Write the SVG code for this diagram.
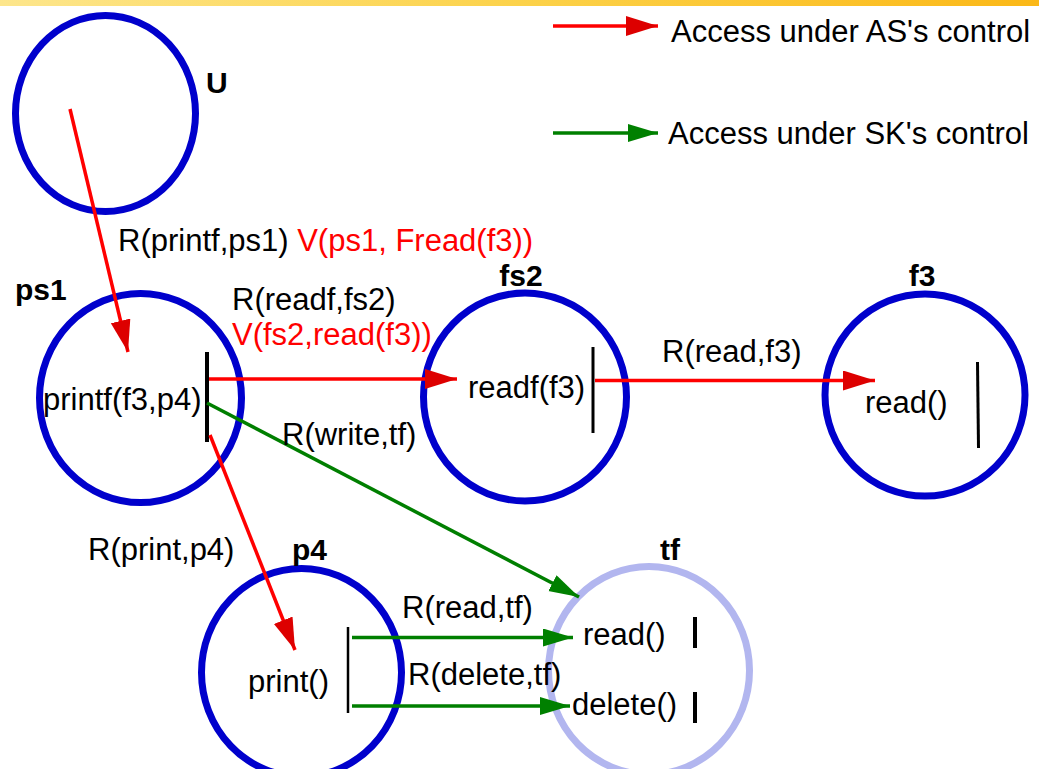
<svg xmlns="http://www.w3.org/2000/svg" width="1039" height="769" viewBox="0 0 1039 769">
<defs>
<linearGradient id="topbar" x1="0" y1="0" x2="1" y2="0">
<stop offset="0" stop-color="#fde68c"/>
<stop offset="0.5" stop-color="#fcd24a"/>
<stop offset="1" stop-color="#fbb817"/>
</linearGradient>
<marker id="hr" markerUnits="userSpaceOnUse" markerWidth="34" markerHeight="24" refX="32" refY="10" orient="auto">
<path d="M0,0 L32,10 L0,20 z" fill="#dd0000"/>
</marker>
<marker id="hg" markerUnits="userSpaceOnUse" markerWidth="32" markerHeight="22" refX="30" refY="9" orient="auto">
<path d="M0,0 L30,9 L0,18 z" fill="#008000"/>
</marker>
</defs>
<style>
.node{fill:none;stroke:#0000cc;stroke-width:7}
.ghost{fill:none;stroke:#b2b6ef;stroke-width:7}
.bar{stroke:#000;fill:none}
.t{font-family:"Liberation Sans",Arial,sans-serif;font-size:31px;fill:#000}
.r{fill:#ff0000}
.b{font-family:"Liberation Sans",Arial,sans-serif;font-size:30px;font-weight:bold;fill:#000}
.red{stroke:#ff0000;stroke-width:3.5;fill:none;marker-end:url(#hr)}
.grn{stroke:#007f00;stroke-width:3.5;fill:none;marker-end:url(#hg)}
</style>
<rect x="0" y="0" width="1039" height="6" fill="url(#topbar)"/>

<g id="legend">
<line class="red" x1="553" y1="26" x2="658" y2="26"/>
<text class="t" x="671" y="42">Access under AS's control</text>
<line class="grn" x1="553" y1="133" x2="658" y2="133"/>
<text class="t" x="668" y="144">Access under SK's control</text>
</g>

<g id="node-U">
<ellipse class="node" cx="105.5" cy="113.5" rx="90" ry="98"/>
<text class="b" x="206" y="93">U</text>
</g>

<g id="node-ps1">
<ellipse class="node" cx="140.5" cy="398" rx="101" ry="104.5"/>
<text class="b" x="15" y="300">ps1</text>
<text class="t" x="43" y="410">printf(f3,p4)</text>
<line class="bar" x1="207" y1="352" x2="207" y2="442" stroke-width="4"/>
</g>

<g id="node-fs2">
<ellipse class="node" cx="525" cy="397" rx="101.5" ry="104"/>
<text class="b" x="521" y="286" text-anchor="middle">fs2</text>
<text class="t" x="468" y="398">readf(f3)</text>
<line class="bar" x1="593" y1="347" x2="593" y2="433" stroke-width="3"/>
</g>

<g id="node-f3">
<ellipse class="node" cx="925" cy="395" rx="100" ry="101"/>
<text class="b" x="922" y="286" text-anchor="middle">f3</text>
<text class="t" x="865" y="413">read()</text>
<line class="bar" x1="977.5" y1="362" x2="978.5" y2="448" stroke-width="3"/>
</g>

<g id="node-p4">
<ellipse class="node" cx="301.5" cy="672.5" rx="100" ry="104"/>
<text class="b" x="292" y="560">p4</text>
<text class="t" x="248" y="692">print()</text>
<line class="bar" x1="348" y1="627" x2="348" y2="713" stroke-width="2.5"/>
</g>

<g id="node-tf">
<ellipse class="ghost" cx="649" cy="670.5" rx="100.5" ry="104"/>
<text class="b" x="660" y="560">tf</text>
<text class="t" x="583" y="645">read()</text>
<text class="t" x="572" y="715">delete()</text>
<line class="bar" x1="695" y1="617" x2="695" y2="648" stroke-width="4"/>
<line class="bar" x1="695" y1="692" x2="695" y2="723" stroke-width="4"/>
</g>

<g id="connectors">
<line class="red" x1="70" y1="109" x2="128" y2="352"/>
<line class="red" x1="209" y1="379" x2="457" y2="379"/>
<line class="red" x1="595" y1="380.5" x2="875" y2="380.5"/>
<line class="red" x1="210" y1="435" x2="295" y2="650"/>
<line class="grn" x1="207" y1="403" x2="579" y2="597"/>
<line class="grn" x1="352" y1="637.5" x2="573" y2="637.5"/>
<line class="grn" x1="352" y1="706" x2="570" y2="706"/>
</g>

<g id="labels">
<text class="t" x="118" y="251">R(printf,ps1) <tspan class="r">V(ps1, Fread(f3))</tspan></text>
<text class="t" x="232" y="310">R(readf,fs2)</text>
<text class="t r" x="232" y="345">V(fs2,read(f3))</text>
<text class="t" x="662" y="362">R(read,f3)</text>
<text class="t" x="282" y="445">R(write,tf)</text>
<text class="t" x="88" y="560">R(print,p4)</text>
<text class="t" x="402" y="618">R(read,tf)</text>
<text class="t" x="408" y="685">R(delete,tf)</text>
</g>
</svg>
